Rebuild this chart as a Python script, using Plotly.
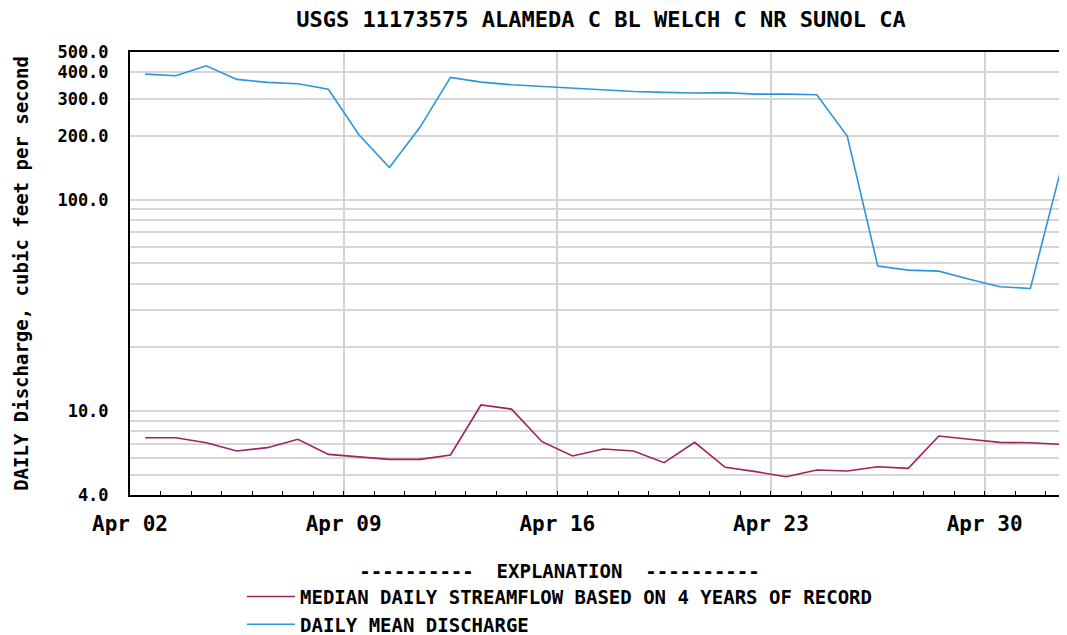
import plotly.graph_objects as go
import pandas as pd

dates = pd.date_range("2024-04-02 12:00", periods=31, freq="D")

daily_mean = [393, 386, 430, 371, 359, 354, 333, 203, 142, 220, 379, 360,
              350, 343, 337, 330, 325, 322, 320, 321, 316, 316, 314, 200,
              48.5, 46.4, 45.9, 42.0, 38.7, 38.0, 139]

median = [7.47, 7.47, 7.07, 6.46, 6.70, 7.34, 6.23, 6.07, 5.90, 5.90, 6.19,
          10.67, 10.2, 7.15, 6.12, 6.60, 6.46, 5.69, 7.10, 5.41, 5.16, 4.88,
          5.25, 5.20, 5.44, 5.35, 7.61, 7.34, 7.10, 7.07, 6.95]

y_tickvals = [4, 5, 6, 7, 8, 9, 10, 20, 30, 40, 50, 60, 70, 80, 90,
              100, 200, 300, 400, 500]
y_ticktext = ["4.0", "", "", "", "", "", "10.0", "", "", "", "", "", "", "", "",
              "100.0", "200.0", "300.0", "400.0", "500.0"]

FONT = "DejaVu Sans Mono"
BLUE = "#2b96d9"
PURPLE = "#9c2260"


def f(size):
    return dict(family=FONT, size=size, color="black", weight="bold")


# page body has an 8px margin; figure is sized/placed to compensate
W, H = 1059, 627
ML, MT = 122, 44
PH = 443
PW = W - ML

fig = go.Figure()
fig.add_trace(go.Scatter(x=dates, y=median, mode="lines",
                         line=dict(color=PURPLE, width=1.6),
                         name="MEDIAN DAILY STREAMFLOW BASED ON 4 YEARS OF RECORD"))
fig.add_trace(go.Scatter(x=dates, y=daily_mean, mode="lines",
                         line=dict(color=BLUE, width=1.6),
                         name="DAILY MEAN DISCHARGE"))

x0 = pd.Timestamp("2024-04-02")
x1 = x0 + pd.Timedelta(days=30.70)

fig.update_layout(
    width=W, height=H,
    margin=dict(l=ML, r=0, t=MT, b=H - MT - PH),
    paper_bgcolor="white", plot_bgcolor="white",
    title=dict(text="USGS 11173575 ALAMEDA C BL WELCH C NR SUNOL CA",
               x=(601 - 8) / W, xanchor="center", y=1 - (19 - 8) / H, yanchor="middle",
               yref="container", xref="container",
               font=f(22)),
    showlegend=True,
    legend=dict(xref="paper", x=(242 - 130) / PW, xanchor="left",
                yref="container", y=1 - (553 - 8) / H, yanchor="top",
                traceorder="normal",
                font=f(19),
                title=dict(text="----------  EXPLANATION  ----------",
                           side="top center", font=f(19)),
                itemwidth=48, bgcolor="rgba(0,0,0,0)", tracegroupgap=0),
    xaxis=dict(type="date", range=[x0, x1], automargin=False,
               tick0="2024-04-02", dtick=7 * 86400000,
               tickformat="%b %d",
               showgrid=True, gridcolor="#d2d2d2", gridwidth=2,
               showline=True, linecolor="black", linewidth=2, mirror=True,
               ticks="inside", ticklen=4, tickcolor="black",
               minor=dict(dtick=86400000, tick0="2024-04-02", ticks="inside",
                          ticklen=4, tickcolor="black", showgrid=False),
               ticklabelstandoff=9,
               tickfont=f(21),
               zeroline=False),
    yaxis=dict(type="log", range=[0.60206, 2.69897], automargin=False,
               tickvals=y_tickvals, ticktext=y_ticktext,
               showgrid=True, gridcolor="#d6d6d6", gridwidth=1.5,
               showline=True, linecolor="black", linewidth=2, mirror=False,
               ticks="", ticklabelstandoff=16,
               tickfont=f(17),
               title=dict(text="DAILY Discharge, cubic feet per second",
                          standoff=24, font=f(19)),
               zeroline=False),
)

fig.write_html("out.html")
